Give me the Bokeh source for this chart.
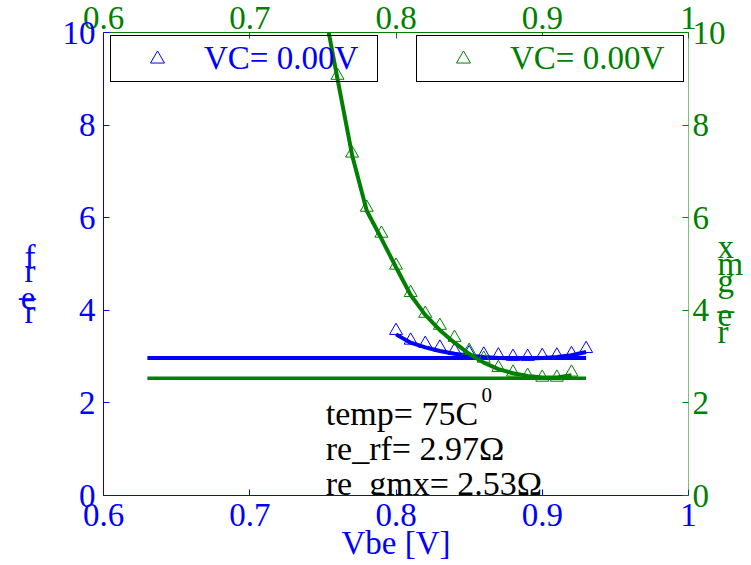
from bokeh.plotting import figure
from bokeh.models import (LinearAxis, Range1d, FixedTicker, Legend, LegendItem, Label)
from bokeh.core.properties import value
from bokeh.embed import file_html
from bokeh.resources import INLINE

# ---------------- data ----------------
blue_x = [0.80, 0.81, 0.82, 0.83, 0.84, 0.85, 0.86, 0.87, 0.88, 0.89, 0.90, 0.91, 0.92, 0.93]
blue_y = [3.56, 3.35, 3.28, 3.20, 3.13, 3.08, 3.05, 3.03, 3.00, 3.00, 3.02, 3.03, 3.06, 3.17]
blue_fit_x = [0.80, 0.81, 0.82, 0.83, 0.84, 0.85, 0.86, 0.87, 0.88, 0.89, 0.90, 0.91, 0.92, 0.93]
blue_fit_y = [3.48, 3.30, 3.20, 3.12, 3.06, 3.02, 2.99, 2.97, 2.96, 2.96, 2.97, 2.99, 3.03, 3.10]

green_x = [0.76, 0.77, 0.78, 0.79, 0.80, 0.81, 0.82, 0.83, 0.84, 0.85, 0.86, 0.87, 0.88, 0.89, 0.90, 0.91, 0.92]
green_y = [9.07, 7.39, 6.22, 5.66, 4.97, 4.38, 3.93, 3.67, 3.41, 3.13, 2.96, 2.76, 2.66, 2.59, 2.55, 2.55, 2.66]
green_fit_x = [0.754, 0.76, 0.77, 0.78, 0.79, 0.80, 0.81, 0.82, 0.83, 0.84, 0.85, 0.86, 0.87, 0.88, 0.89, 0.90, 0.91, 0.92]
green_fit_y = [10.0, 9.00, 7.35, 6.15, 5.55, 4.93, 4.33, 3.90, 3.57, 3.30, 3.06, 2.87, 2.73, 2.64, 2.58, 2.55, 2.55, 2.60]

ref_x = [0.63, 0.93]
re_rf = 2.97
re_gmx = 2.53
temp = 75
vc = 0.00

xticks = [0.6, 0.7, 0.8, 0.9, 1.0]
xtick_labels = ["0.6", "0.7", "0.8", "0.9", "1"]
yticks = [0, 2, 4, 6, 8, 10]
left_title = "re_rf"
right_title = "re_gmx"

BLUE = "#0000ff"
GREEN = "#008000"
FONT = "Liberation Serif"
FS = "33px"

X0, X1, Y0, Y1 = 0.6, 1.0, 0, 10

p = figure(width=750, height=564, x_range=Range1d(X0, X1), y_range=Range1d(Y0, Y1),
           output_backend="svg", toolbar_location=None,
           min_border_left=103, min_border_right=62, min_border_top=32, min_border_bottom=69)
p.xgrid.visible = False
p.ygrid.visible = False
p.outline_line_color = None


def style_axis(ax, color, standoff, line_alpha=1.0):
    ax.axis_line_color = color
    ax.axis_line_alpha = line_alpha
    ax.axis_line_width = 1
    ax.major_tick_line_color = color
    ax.major_tick_in = 6
    ax.major_tick_out = 0
    ax.minor_tick_line_color = None
    ax.major_label_text_font = FONT
    ax.major_label_text_font_size = FS
    ax.major_label_text_color = color
    ax.major_label_standoff = standoff


def stacked_title(ax, text, color, standoff, line_height, lead):
    # characters stacked bottom-to-top, overlapping, as in the reference
    ax.axis_label = "\n" * lead + "\n".join(reversed(text))
    ax.axis_label_orientation = "horizontal"
    ax.axis_label_text_font = FONT
    ax.axis_label_text_font_size = FS
    ax.axis_label_text_font_style = "normal"
    ax.axis_label_text_color = color
    ax.axis_label_text_line_height = line_height
    ax.axis_label_text_align = "center"
    ax.axis_label_standoff = standoff


# bottom axis
xa = p.xaxis[0]
xa.ticker = FixedTicker(ticks=xticks)
xa.major_label_overrides = dict(zip(xticks, xtick_labels))
style_axis(xa, BLUE, 8)
xa.axis_label = "Vbe [V]"
xa.axis_label_text_font = FONT
xa.axis_label_text_font_size = FS
xa.axis_label_text_font_style = "normal"
xa.axis_label_text_color = BLUE
xa.axis_label_standoff = -4

# left axis
ya = p.yaxis[0]
ya.ticker = FixedTicker(ticks=yticks)
style_axis(ya, BLUE, 8)
stacked_title(ya, left_title, BLUE, 24, 0.38, 3)

# top axis
ta = LinearAxis(ticker=FixedTicker(ticks=xticks))
ta.major_label_overrides = dict(zip(xticks, xtick_labels))
style_axis(ta, GREEN, 4)
p.add_layout(ta, "above")

# right axis
ra = LinearAxis(ticker=FixedTicker(ticks=yticks))
style_axis(ra, GREEN, 4, line_alpha=0.5)
ra.major_tick_line_alpha = 1.0
stacked_title(ra, right_title, GREEN, -11, 0.47, 3)
p.add_layout(ra, "right")

# ---------------- blue (rf) ----------------
p.line(ref_x, [re_rf, re_rf], line_color=BLUE, line_width=4)
p.line(blue_fit_x, blue_fit_y, line_color=BLUE, line_width=4)
blue_sc = p.scatter(blue_x, blue_y, marker="triangle", size=13, fill_color=None,
                    line_color=BLUE, line_width=1)

# ---------------- green (gmx) ----------------
p.line(ref_x, [re_gmx, re_gmx], line_color=GREEN, line_width=3.5)
p.line(green_fit_x, green_fit_y, line_color=GREEN, line_width=4)
green_sc = p.scatter(green_x, green_y, marker="triangle", size=13, fill_color=None,
                     line_color=GREEN, line_width=1)

# ---------------- legends ----------------
def make_legend(renderer, color, loc, bg_alpha):
    return Legend(items=[LegendItem(label=value(f"VC= {vc:.2f}V"), renderers=[renderer])],
                  location=loc, orientation="vertical",
                  label_text_font=FONT, label_text_font_size=FS, label_text_color=color,
                  border_line_color="black", border_line_width=1.5, border_line_alpha=1,
                  background_fill_color="white", background_fill_alpha=bg_alpha,
                  padding=4, spacing=0, margin=0,
                  glyph_width=84, glyph_height=35, label_standoff=5,
                  label_width=169, label_height=35)

# the blue legend sits under the green curve in the reference: keep it see-through
p.add_layout(make_legend(blue_sc, BLUE, (7, 413), 0.0))
p.add_layout(make_legend(green_sc, GREEN, (313, 413), 1.0))

# ---------------- annotations ----------------
ann_x = 0.752
AFS = "34px"
for txt, yy in [(f"temp= {temp}C", 1.771), (f"re_rf= {re_rf:.2f}\u03a9", 1.015),
                (f"re_gmx= {re_gmx:.2f}\u03a9", 0.259)]:
    p.add_layout(Label(x=ann_x, y=yy, text=txt, text_font=FONT, text_font_size=AFS,
                       text_color="black", text_baseline="alphabetic"))
p.add_layout(Label(x=0.8585, y=2.17, text="0", text_font=FONT, text_font_size="21px",
                   text_color="black", text_baseline="alphabetic"))

open("out.html", "w").write(file_html(p, INLINE))
